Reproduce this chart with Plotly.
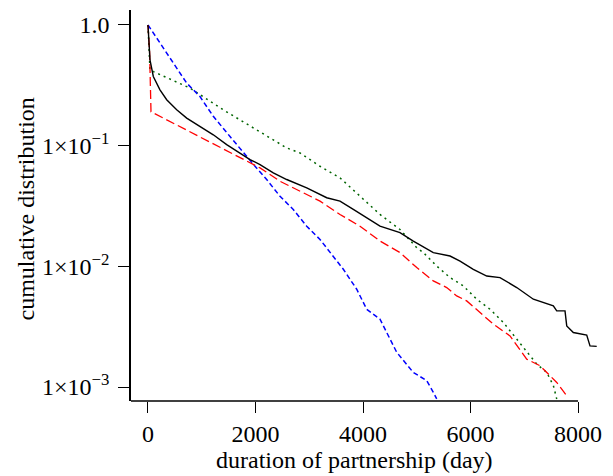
import plotly.graph_objects as go

# ---- data ----
black_x = [0, 37, 99, 223, 348, 534, 720, 967, 1215, 1464, 1712, 1898, 2084, 2331, 2581, 2953,
           3325, 3572, 3820, 4069, 4316, 4688, 4936, 5308, 5619, 5805, 6052, 6302, 6549, 6860,
           7169, 7541, 7604, 7758, 7790, 7913, 8162, 8223, 8348]
black_y = [1.0, 0.514, 0.374, 0.290, 0.240, 0.198, 0.169, 0.144, 0.123, 0.102, 0.0870, 0.0766,
           0.0697, 0.0594, 0.0524, 0.0447, 0.0370, 0.0347, 0.0296, 0.0252, 0.0215, 0.0190, 0.0162,
           0.0130, 0.01217, 0.01106, 0.00945, 0.00831, 0.00807, 0.00667, 0.00534, 0.00470,
           0.00427, 0.00427, 0.00321, 0.00283, 0.00269, 0.00219, 0.00217]

red_x = [0, 30, 56, 1959, 2084, 2456, 2828, 3200, 3572, 3944, 4316, 4688, 5000, 5308, 5557,
         5743, 5929, 6177, 6424, 6735, 6921, 7046, 7293, 7479, 7604, 7790]
red_y = [1.0, 0.6, 0.191, 0.0697, 0.0654, 0.0507, 0.0419, 0.0347, 0.0269, 0.0215, 0.0162, 0.0130,
         0.00976, 0.00757, 0.00667, 0.00569, 0.00517, 0.00414, 0.00332, 0.00265, 0.00206, 0.00170,
         0.00150, 0.00124, 0.00109, 0.000847]

green_x = [0, 37, 99, 781, 1401, 2022, 2581, 2828, 3200, 3572, 3944, 4316, 4688, 5000, 5122,
           5371, 5619, 5866, 6115, 6363, 6610, 6860, 7046, 7232, 7418, 7541, 7604]
green_y = [1.0, 0.425, 0.411, 0.300, 0.198, 0.136, 0.0957, 0.0870, 0.0675, 0.0541, 0.0381,
           0.0269, 0.0202, 0.01427, 0.0130, 0.01005, 0.00807, 0.00688, 0.00534, 0.00441,
           0.00343, 0.00249, 0.00194, 0.00155, 0.00132, 0.00103, 0.000796]

blue_x = [0, 223, 471, 720, 967, 1215, 1526, 1773, 1991, 2208, 2456, 2703, 2953, 3200, 3448,
          3634, 3883, 4069, 4316, 4441, 4627, 4936, 5185, 5308, 5371]
blue_y = [1.0, 0.706, 0.482, 0.330, 0.255, 0.175, 0.119, 0.0870, 0.0675, 0.0524, 0.0381, 0.0296,
          0.0215, 0.0167, 0.01217, 0.00945, 0.00646, 0.00441, 0.00365, 0.00283, 0.00194,
          0.00132, 0.00113, 0.000904, 0.000796]

x_tickvals = [0, 2000, 4000, 6000, 8000]
y_tickvals = [1.0, 0.1, 0.01, 0.001]
y_ticktext = ["1.0", "1×10<sup>−1</sup>", "1×10<sup>−2</sup>", "1×10<sup>−3</sup>"]
x_title = "duration of partnership (day)"
y_title = "cumulative distribution"

FONT = "Liberation Serif"
FS = 24

fig = go.Figure()
fig.add_trace(go.Scatter(x=green_x, y=green_y, mode="lines",
                         line=dict(color="#006400", width=1.5, dash="2px,4px")))
fig.add_trace(go.Scatter(x=blue_x, y=blue_y, mode="lines",
                         line=dict(color="#0000ff", width=1.5, dash="5px,3px")))
fig.add_trace(go.Scatter(x=red_x, y=red_y, mode="lines",
                         line=dict(color="#ff0000", width=1.3, dash="9px,4px")))
fig.add_trace(go.Scatter(x=black_x, y=black_y, mode="lines",
                         line=dict(color="#000000", width=1.4)))

# page body has an 8px margin, so the figure is shifted by 8px
fig.update_layout(
    width=605, height=468,
    margin=dict(l=123, r=13, t=2, b=75),
    paper_bgcolor="white", plot_bgcolor="white",
    showlegend=False,
    font=dict(family=FONT, size=FS, color="black"),
    xaxis=dict(range=[-316, 8409], tickvals=x_tickvals, ticks="outside", ticklen=11,
               tickwidth=1.3, tickcolor="black", showline=False, showgrid=False,
               zeroline=False, automargin=False,
               tickfont=dict(family=FONT, size=FS)),
    yaxis=dict(type="log", range=[-3.116, 0.124], tickvals=y_tickvals, ticktext=y_ticktext,
               ticks="outside", ticklen=11, tickwidth=1.3, tickcolor="black",
               showline=True, linecolor="black", linewidth=1.5, showgrid=False,
               zeroline=False, automargin=False, ticklabelstandoff=4,
               tickfont=dict(family=FONT, size=FS)),
)
fig.add_shape(type="line", xref="x", yref="paper", x0=-316, x1=8000, y0=0, y1=0,
              line=dict(color="black", width=1.5))
fig.add_annotation(text=x_title, xref="paper", yref="paper", x=0.4776, y=0,
                   yshift=-59, xanchor="center", yanchor="middle", showarrow=False,
                   font=dict(family=FONT, size=FS))
fig.add_annotation(text=y_title, xref="paper", yref="paper", x=0, y=0.5,
                   xshift=-106, yshift=-4, xanchor="center", yanchor="middle",
                   textangle=-90, showarrow=False, font=dict(family=FONT, size=FS))

fig.write_html("out.html")
